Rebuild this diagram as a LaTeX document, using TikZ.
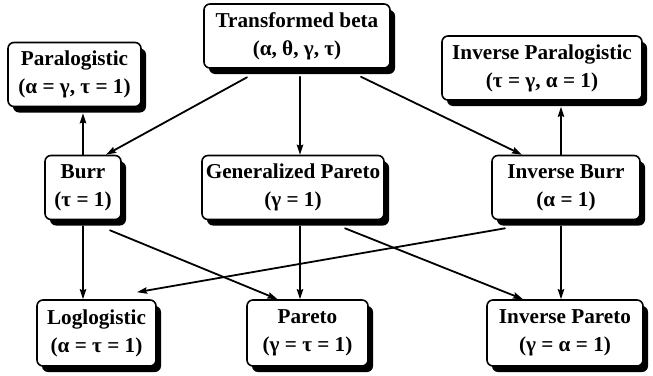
\documentclass[tikz,border=0pt]{standalone}
\usepackage{fontspec}
\setmainfont{Liberation Serif}
\usetikzlibrary{arrows.meta,calc,shadows}

\begin{document}
\begin{tikzpicture}[x=.5pt,y=-.5pt,line cap=round,line join=round,
    box/.style={draw,line width=.8pt,rounded corners=3pt,fill=white,align=center,
      inner sep=0pt,minimum height=32pt,font=\fontsize{10.6}{14}\selectfont\bfseries,
      drop shadow={shadow xshift=2.5pt,shadow yshift=-3pt,opacity=1,fill=black}},
    arr/.style={-{Stealth[length=5pt,width=3.2pt,inset=.6pt]},line width=.9pt}]
  \path[use as bounding box] (0,0) rectangle (653,375);

  % Three rows of the family: parent on top, two- and one-parameter cases below.
  \node[box,minimum width=93pt] (tb) at (297,36) {Transformed beta\\(α, θ, γ, τ)};
  \node[box,minimum width=66.5pt] (para) at (74.5,74.5) {Paralogistic\\(α = γ, τ = 1)};
  \node[box,minimum width=100pt] (ipara) at (542,68) {Inverse Paralogistic\\(τ = γ, α = 1)};
  \node[box,minimum width=38pt] (burr) at (83,187.5) {Burr\\(τ = 1)};
  \node[box,minimum width=91pt] (gp) at (293,187.5) {Generalized Pareto\\(γ = 1)};
  \node[box,minimum width=74pt] (iburr) at (566,187.5) {Inverse Burr\\(α = 1)};
  \node[box,minimum width=59.5pt,minimum height=33pt] (loglog) at (96.5,333) {Loglogistic\\(α = τ = 1)};
  \node[box,minimum width=60.5pt,minimum height=33pt] (pareto) at (307.5,333) {Pareto\\(γ = τ = 1)};
  \node[box,minimum width=78pt,minimum height=33pt] (ipareto) at (565,333) {Inverse Pareto\\(γ = α = 1)};

  % Arrows leave from under the shadows and point to the special cases.
  \draw[arr] ($(tb.south)+(-50,8.5)$) -- ($(burr.north)+(23,0)$);
  \draw[arr] ([xshift=1.5pt,yshift=-4pt]tb.south) -- ([xshift=1.5pt]tb.south |- gp.north);
  \draw[arr] ($(tb.south)+(64,8)$) -- ($(iburr.north)+(-44,0)$);
  \draw[arr] (burr.north) -- ([yshift=-3pt]burr.north |- para.south);
  \draw[arr] ([xshift=-2.5pt]iburr.north) -- ([xshift=-2.5pt,yshift=-3pt]iburr.north |- ipara.south);

  \draw[arr] ([yshift=-3pt]burr.south) -- (burr.south |- loglog.north);
  \draw[arr] ($(burr.south)+(27,10)$) -- ($(pareto.north)+(-30,0)$);
  \draw[arr] ([xshift=3.5pt,yshift=-3pt]gp.south) -- ([xshift=3.5pt]gp.south |- pareto.north);
  \draw[arr] ($(gp.south)+(52,8)$) -- ($(ipareto.north)+(-42,0)$);
  \draw[arr] ($(iburr.south)+(-61,8)$) -- ($(loglog.north)+(40.5,-7)$);
  \draw[arr] ([xshift=-2.5pt,yshift=-3pt]iburr.south) -- ([xshift=-2.5pt]iburr.south |- ipareto.north);
\end{tikzpicture}
\end{document}
